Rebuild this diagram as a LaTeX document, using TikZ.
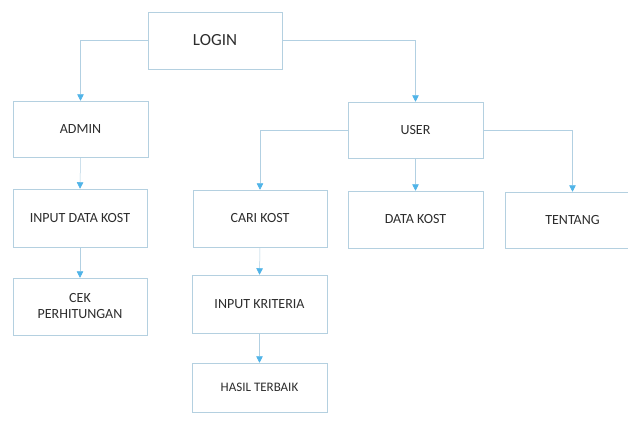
\documentclass[tikz,border=0pt]{standalone}
\usepackage{fontspec}
\setmainfont{Carlito}
\usetikzlibrary{arrows.meta}
\definecolor{boxline}{RGB}{180,208,224}
\definecolor{conline}{RGB}{178,208,226}
\definecolor{tipblue}{RGB}{80,180,232}
\definecolor{txt}{RGB}{45,45,45}
\begin{document}
\begin{tikzpicture}[x=1pt,y=-1pt,
  box/.style={draw=boxline, line width=0.5pt, inner sep=0pt, text=txt, align=center, font=\fontsize{14}{16}\selectfont},
  con/.style={draw=conline, line width=0.5pt, -{Triangle[width=6.5pt,length=6.5pt,fill=tipblue,color=tipblue]}},
  plain/.style={draw=conline, line width=0.5pt}]
\useasboundingbox (0,0) rectangle (628,420);
\fill[white] (0,0) rectangle (628,420);
\node[box, minimum width=134pt, minimum height=57pt, font=\fontsize{17}{19}\selectfont] (login) at (215,40.5) {LOGIN};
\node[box, minimum width=135pt, minimum height=56pt] (admin) at (80.5,129) {ADMIN};
\node[box, minimum width=135pt, minimum height=56pt] (user) at (415.5,130) {USER};
\node[box, minimum width=134pt, minimum height=58pt] (input) at (80,218) {INPUT DATA KOST};
\node[box, minimum width=134pt, minimum height=57pt] (cek) at (80,306.5) {CEK\\PERHITUNGAN};
\node[box, minimum width=134pt, minimum height=57pt] (cari) at (260,218.5) {CARI KOST};
\node[box, minimum width=135pt, minimum height=57pt] (data) at (415.5,219.5) {DATA KOST};
\node[box, minimum width=135pt, minimum height=56pt] (tentang) at (572.5,220) {TENTANG};
\node[box, minimum width=135pt, minimum height=58pt] (krit) at (259.5,304) {INPUT KRITERIA};
\node[box, minimum width=135pt, minimum height=49pt, font=\fontsize{13}{15}\selectfont] (hasil) at (259.5,387.5) {HASIL TERBAIK};
\draw[con] (login.west) -| (admin.north);
\draw[con] (login.east) -| (user.north);
\draw[con] (user.west) -| (cari.north);
\draw[con] (user.east) -| (tentang.north);
\draw[con] (user.south) -- (data.north);
\draw[con] (admin.south) -- (input.north);
\draw[con] (input.south) -- (cek.north);
\draw[con] (cari.south) -- (krit.north);
\draw[con] (krit.south) -- (hasil.north);
\end{tikzpicture}
\end{document}
